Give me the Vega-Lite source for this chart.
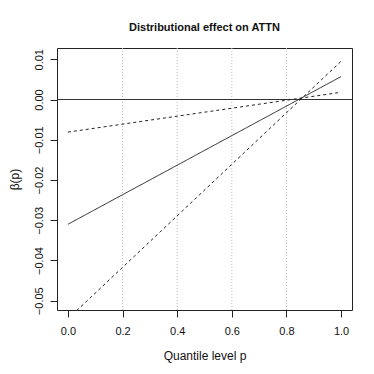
{
  "$schema": "https://vega.github.io/schema/vega-lite/v6.json",
  "width": 295,
  "height": 262,
  "autosize": {"type": "none"},
  "padding": {"left": 57, "top": 48, "right": 22, "bottom": 64},
  "background": "white",
  "config": {
    "font": "Liberation Sans",
    "view": {"stroke": "#222", "strokeWidth": 1},
    "axis": {"labelFont": "Liberation Sans", "titleFont": "Liberation Sans", "labelFontSize": 11, "titleFontSize": 12, "titleFontWeight": "normal", "labelColor": "#111", "titleColor": "#111", "tickColor": "#222", "domain": false, "grid": false, "tickSize": 7}
  },
  "title": {"text": "Distributional effect on ATTN", "fontSize": 11, "fontWeight": "bold", "font": "Liberation Sans", "anchor": "middle", "offset": 15, "color": "#111"},
  "datasets": {
    "lines": [
      {"p": 0.0, "beta": -0.0310, "series": "estimate", "kind": "solid"},
      {"p": 1.0, "beta": 0.0057, "series": "estimate", "kind": "solid"},
      {"p": 0.0, "beta": -0.0081, "series": "upper", "kind": "dashed"},
      {"p": 1.0, "beta": 0.0018, "series": "upper", "kind": "dashed"},
      {"p": 0.0, "beta": -0.0545, "series": "lower", "kind": "dashed"},
      {"p": 1.0, "beta": 0.0095, "series": "lower", "kind": "dashed"}
    ],
    "grid": [{"p": 0.2}, {"p": 0.4}, {"p": 0.6}, {"p": 0.8}],
    "zero": [{"beta": 0}]
  },
  "layer": [
    {
      "data": {"name": "grid"},
      "mark": {"type": "rule", "color": "#bbb", "strokeDash": [1, 2], "strokeWidth": 1},
      "encoding": {
        "x": {"field": "p", "type": "quantitative", "scale": {"domain": [-0.04, 1.04], "nice": false, "zero": false}}
      }
    },
    {
      "data": {"name": "zero"},
      "mark": {"type": "rule", "color": "#333", "strokeWidth": 1},
      "encoding": {
        "y": {"field": "beta", "type": "quantitative", "scale": {"domain": [-0.0523, 0.0128], "nice": false, "zero": false}}
      }
    },
    {
      "data": {"name": "lines"},
      "mark": {"type": "line", "clip": true, "color": "#222", "strokeWidth": 1},
      "encoding": {
        "x": {"field": "p", "type": "quantitative", "scale": {"domain": [-0.04, 1.04], "nice": false, "zero": false},
          "axis": {"values": [0, 0.2, 0.4, 0.6, 0.8, 1.0], "format": ".1f", "title": "Quantile level p", "labelPadding": 8, "titlePadding": 14}},
        "y": {"field": "beta", "type": "quantitative", "scale": {"domain": [-0.0523, 0.0128], "nice": false, "zero": false},
          "axis": {"values": [-0.05, -0.04, -0.03, -0.02, -0.01, 0, 0.01], "format": ".2f", "title": "β(p)", "labelAngle": -90, "labelAlign": "center", "labelBaseline": "bottom", "labelPadding": 6, "titlePadding": 12}},
        "detail": {"field": "series"},
        "strokeDash": {"field": "kind", "type": "nominal", "scale": {"domain": ["solid", "dashed"], "range": [[1, 0], [3, 3]]}, "legend": null}
      }
    }
  ]
}
